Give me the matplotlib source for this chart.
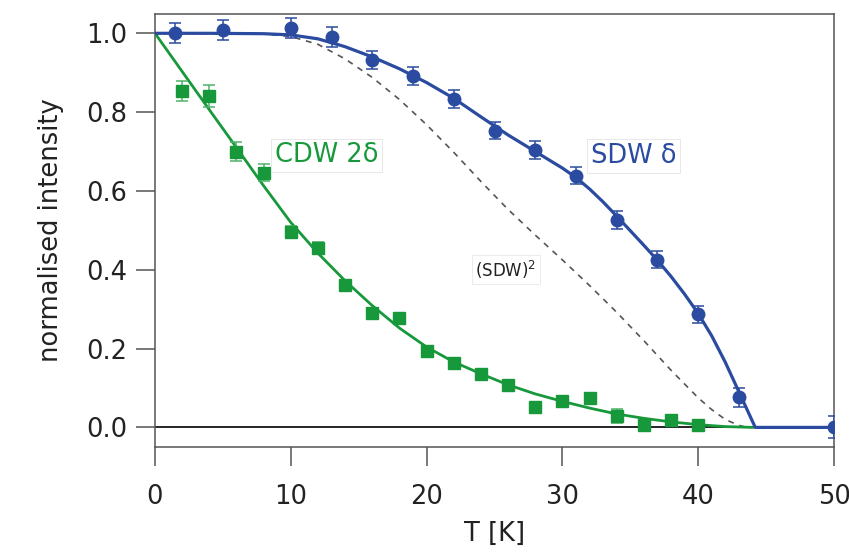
import matplotlib
matplotlib.use("Agg")
import matplotlib.pyplot as plt
import numpy as np

plt.rcParams['font.family'] = ['DejaVu Sans']

# ---- data ----
sdw_T = [1.5, 5, 10, 13, 16, 19, 22, 25, 28, 31, 34, 37, 40, 43, 50]
sdw_I = [1.0, 1.008, 1.013, 0.991, 0.932, 0.892, 0.833, 0.753, 0.704, 0.639, 0.526, 0.426, 0.287, 0.076, 0.0]
sdw_err = [0.025, 0.025, 0.025, 0.025, 0.022, 0.022, 0.022, 0.022, 0.022, 0.022, 0.022, 0.022, 0.022, 0.025, 0.028]

cdw_T = [2, 4, 6, 8, 10, 12, 14, 16, 18, 20, 22, 24, 26, 28, 30, 32, 34, 36, 38, 40]
cdw_I = [0.854, 0.841, 0.700, 0.646, 0.495, 0.456, 0.361, 0.291, 0.278, 0.194, 0.164,
         0.135, 0.107, 0.051, 0.068, 0.074, 0.029, 0.006, 0.020, 0.006]
cdw_err = [0.026, 0.027, 0.023, 0.022, 0.015, 0.014, 0.012, 0.01, 0.01, 0.01, 0.01,
           0.01, 0.01, 0.01, 0.01, 0.01, 0.018, 0.01, 0.01, 0.01]

# fit curves
sdw_fit_T = [0, 4, 8, 10, 12, 14, 16, 18, 20, 22, 24, 26, 28, 30, 31, 32, 33, 34, 35, 36,
             37, 38, 39, 40, 41, 42, 43, 44.2, 50]
sdw_fit_I = [1.0, 1.0, 0.999, 0.996, 0.986, 0.966, 0.940, 0.910, 0.875, 0.835, 0.788, 0.742,
             0.700, 0.658, 0.634, 0.605, 0.572, 0.536, 0.499, 0.462, 0.424, 0.383, 0.338,
             0.289, 0.232, 0.165, 0.090, 0.0, 0.0]

sq_T = [0, 8, 10, 12, 14, 16, 18, 20, 22, 24, 26, 28, 30, 32, 34, 36, 38, 40, 41, 42, 43, 43.6]
sq_I = [1.0, 0.998, 0.992, 0.972, 0.935, 0.888, 0.832, 0.768, 0.698, 0.624, 0.553, 0.488,
        0.425, 0.360, 0.292, 0.220, 0.145, 0.075, 0.045, 0.020, 0.005, 0.0]

cdw_fit_T = [0, 2, 4, 6, 8, 10, 12, 14, 16, 18, 20, 22, 24, 26, 28, 30, 32, 34, 36, 38, 40, 42, 44]
cdw_fit_I = [1.0, 0.903, 0.806, 0.710, 0.613, 0.520, 0.442, 0.372, 0.309, 0.252, 0.204, 0.166,
             0.136, 0.108, 0.085, 0.066, 0.049, 0.034, 0.023, 0.014, 0.007, 0.002, 0.0]

xticks = [0, 10, 20, 30, 40, 50]
yticks = [0.0, 0.2, 0.4, 0.6, 0.8, 1.0]

blue = '#2A4B9F'
green = '#17993B'
spine_c = '#555555'
fs = 18.5

fig = plt.figure(figsize=(8.49, 5.52), dpi=100)
ax = fig.add_axes([155/849, (552-446.7)/552, (834-155)/849, (446.7-14)/552])

ax.axhline(0, color='black', lw=1.2, zorder=1.5)

ax.plot(sq_T, sq_I, ls=(0, (3.5, 3.5)), color='#555555', lw=1.2, zorder=2)
ax.plot(cdw_fit_T, cdw_fit_I, color=green, lw=2.0, zorder=3, solid_joinstyle='round')
ax.plot(sdw_fit_T, sdw_fit_I, color=blue, lw=2.3, zorder=3, solid_joinstyle='round')

ax.errorbar(cdw_T, cdw_I, yerr=cdw_err, fmt='s', color=green, ms=9, ecolor='#4DB36A',
            elinewidth=1.1, capsize=4.5, capthick=1.1, zorder=4)
ax.errorbar(sdw_T, sdw_I, yerr=sdw_err, fmt='o', color=blue, ms=9, ecolor=blue,
            elinewidth=1.1, capsize=4.5, capthick=1.1, zorder=5)

box = dict(boxstyle='square,pad=0.15', facecolor='white', edgecolor='#e4e4e4', lw=0.6)
ax.text(8.8, 0.69, 'CDW 2δ', color=green, fontsize=fs, ha='left', va='center', bbox=box, zorder=6)
ax.text(32.1, 0.688, 'SDW δ', color=blue, fontsize=fs, ha='left', va='center', bbox=box, zorder=6)
ax.text(23.6, 0.40, r'(SDW)$^2$', color='#222222', fontsize=12, ha='left', va='center',
        bbox=dict(boxstyle='square,pad=0.2', facecolor='white', edgecolor='#e8e8e8', lw=0.6), zorder=6)

ax.set_xlim(0, 50)
ax.set_ylim(-0.049, 1.049)
ax.set_xticks(xticks)
ax.set_xticklabels([str(t) for t in xticks])
ax.set_yticks(yticks)
ax.set_yticklabels([f'{t:.1f}' for t in yticks])

for s in ax.spines.values():
    s.set_color(spine_c)
    s.set_linewidth(1.1)

ax.tick_params(axis='both', direction='out', length=14, width=1.1, color=spine_c,
               labelsize=fs, labelcolor='#222222')
ax.tick_params(axis='x', pad=13)
ax.tick_params(axis='y', pad=6)

ax.set_xlabel('T [K]', fontsize=fs, color='#222222', labelpad=8)
ax.set_ylabel('normalised intensity', fontsize=fs, color='#222222', labelpad=16)

fig.savefig('out.png', dpi=100)
